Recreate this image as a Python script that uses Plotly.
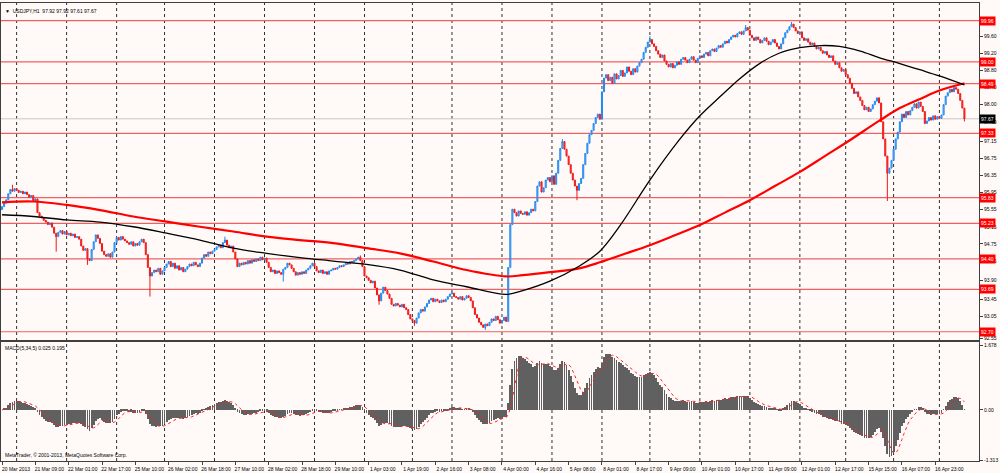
import pandas as pd
import plotly.graph_objects as go
from plotly.subplots import make_subplots

# USDJPY H1 closes, bar 0 = 20 Mar 2013 17:00
closes = [
    95.62, 95.70, 95.78, 95.92, 96.02, 95.98, 96.04, 96.00, 95.95, 95.98,
    95.92, 95.96, 95.90, 95.84, 95.88, 95.76, 95.80, 95.48, 95.40, 95.36,
    95.30, 95.26, 95.20, 95.24, 95.14, 95.00, 94.92, 95.02, 95.06, 94.98,
    95.04, 94.96, 95.00, 94.94, 94.98, 94.90, 94.92, 94.86, 94.70, 94.60,
    94.64, 94.40, 94.36, 94.62, 94.80, 94.96, 94.88, 94.76, 94.58, 94.50,
    94.46, 94.52, 94.44, 94.56, 94.78, 94.90, 94.84, 94.92, 94.86, 94.82,
    94.78, 94.74, 94.80, 94.70, 94.76, 94.72, 94.80, 94.86, 94.78, 94.50,
    94.20, 94.00, 94.08, 94.14, 94.10, 94.18, 94.04, 94.12, 94.20, 94.28,
    94.34, 94.22, 94.30, 94.18, 94.24, 94.14, 94.20, 94.10, 94.16, 94.22,
    94.28, 94.24, 94.32, 94.26, 94.22, 94.30, 94.42, 94.50, 94.46, 94.56,
    94.52, 94.58, 94.62, 94.68, 94.72, 94.66, 94.78, 94.84, 94.72, 94.66,
    94.70, 94.56, 94.40, 94.22, 94.30, 94.26, 94.32, 94.28, 94.36, 94.30,
    94.38, 94.34, 94.40, 94.36, 94.44, 94.38, 94.42, 94.32, 94.20, 94.10,
    94.14, 94.06, 94.12, 94.08, 94.04, 94.16, 94.20, 94.30, 94.26, 94.18,
    94.10, 94.02, 94.08, 94.04, 94.10, 94.06, 94.14, 94.18, 94.24, 94.30,
    94.22, 94.12, 94.08, 94.14, 94.06, 94.10, 94.04, 94.12, 94.14, 94.18,
    94.16, 94.20, 94.24, 94.22, 94.26, 94.30, 94.28, 94.34, 94.32, 94.36,
    94.40, 94.44, 94.36, 94.22, 94.00, 93.96, 93.90, 93.84, 93.88, 93.72,
    93.56, 93.42, 93.60, 93.74, 93.66, 93.58, 93.48, 93.34, 93.30, 93.36,
    93.32, 93.28, 93.34, 93.26, 93.22, 93.10, 93.00, 92.96, 92.90, 93.02,
    93.14, 93.22, 93.18, 93.28, 93.36, 93.44, 93.48, 93.40, 93.46, 93.42,
    93.38, 93.44, 93.40, 93.46, 93.52, 93.58, 93.60, 93.52, 93.50, 93.46,
    93.52, 93.44, 93.48, 93.54, 93.50, 93.42, 93.26, 93.10, 93.02, 92.92,
    92.86, 92.80, 92.88, 92.84, 92.92, 93.00, 92.96, 93.06, 92.98, 92.90,
    92.96, 93.04, 92.94, 94.20, 95.20, 95.56, 95.48, 95.40, 95.52, 95.46,
    95.44, 95.50, 95.42, 95.48, 95.56, 95.52, 95.74, 96.10, 96.20, 95.96,
    96.06, 96.24, 96.30, 96.20, 96.34, 96.14, 96.40, 96.70, 96.98, 97.14,
    96.96, 96.80, 96.60, 96.40, 96.24, 96.10, 96.00, 96.16, 96.28, 96.60,
    96.86, 97.10, 97.30, 97.40, 97.56, 97.70, 97.78, 97.66, 98.30, 98.62,
    98.70, 98.56, 98.64, 98.50, 98.72, 98.60, 98.68, 98.80, 98.66, 98.74,
    98.88, 98.78, 98.70, 98.84, 98.76, 98.90, 98.98, 99.06, 99.22, 99.34,
    99.46, 99.52, 99.42, 99.36, 99.26, 99.18, 99.10, 99.16, 99.02, 98.94,
    98.88, 98.96, 98.86, 98.92, 99.00, 98.94, 99.06, 99.10, 99.04, 98.98,
    99.06, 99.12, 99.04, 98.98, 99.08, 99.14, 99.10, 99.18, 99.22, 99.14,
    99.26, 99.30, 99.24, 99.32, 99.38, 99.34, 99.42, 99.48, 99.44, 99.52,
    99.58, 99.62, 99.58, 99.66, 99.70, 99.64, 99.72, 99.80, 99.74, 99.62,
    99.56, 99.50, 99.58, 99.52, 99.44, 99.50, 99.56, 99.48, 99.40, 99.46,
    99.52, 99.44, 99.36, 99.30, 99.42, 99.56, 99.68, 99.74, 99.82, 99.88,
    99.80, 99.72, 99.66, 99.70, 99.56, 99.50, 99.54, 99.46, 99.40, 99.44,
    99.36, 99.30, 99.34, 99.26, 99.20, 99.24, 99.16, 99.10, 99.14, 99.02,
    98.94, 98.98, 98.86, 98.78, 98.82, 98.70, 98.62, 98.50, 98.38, 98.26,
    98.30, 98.18, 98.10, 97.98, 97.88, 97.94, 97.84, 97.90, 98.00, 98.08,
    98.16, 98.04, 97.60, 97.20, 96.80, 96.40, 96.52, 96.70, 96.96, 97.20,
    97.36, 97.60, 97.78, 97.70, 97.84, 97.76, 97.86, 97.94, 98.02, 97.92,
    98.06, 97.96, 97.84, 97.56, 97.62, 97.70, 97.64, 97.74, 97.66, 97.72,
    97.68, 97.76, 98.00, 98.20, 98.28, 98.36, 98.30, 98.40, 98.36, 98.26,
    98.10, 97.92, 97.67,
]
first_open = 95.55

# long shadows that stand out (bar -> price)
spike_lows = {26: 94.57, 41: 94.26, 71: 93.52, 135: 93.87, 181: 93.33,
              198: 92.84, 232: 92.74, 276: 95.77, 425: 95.75, 462: 97.61}
spike_highs = {5: 96.13, 107: 94.92, 172: 94.48, 216: 93.66, 269: 97.20,
               311: 99.60, 357: 99.86, 379: 99.93}

# moving averages
ma_black_x = [0, 15, 31, 47, 63, 79, 95, 111, 127, 143, 159, 175, 191, 207, 223,
              242, 250, 263, 277, 287, 297, 311, 325, 335, 345, 354, 364, 373,
              383, 393, 402, 412, 421, 431, 441, 450, 462]
ma_black_y = [95.43, 95.39, 95.31, 95.26, 95.15, 95.00, 94.84, 94.65, 94.53, 94.43,
              94.35, 94.27, 94.14, 93.91, 93.75, 93.57, 93.66, 93.88, 94.23, 94.58,
              95.20, 96.24, 97.17, 97.74, 98.20, 98.60, 98.97, 99.20, 99.33, 99.38,
              99.36, 99.25, 99.10, 98.96, 98.81, 98.67, 98.46]
ma_red_x = [0, 15, 31, 47, 63, 79, 95, 111, 127, 143, 159, 175, 191, 207, 223, 242,
            250, 263, 277, 287, 299, 311, 323, 335, 347, 359, 371, 383, 395, 407,
            421, 431, 441, 450, 462]
ma_red_y = [95.72, 95.74, 95.66, 95.54, 95.39, 95.27, 95.15, 95.04, 94.92, 94.84,
            94.77, 94.65, 94.53, 94.34, 94.14, 93.99, 94.02, 94.09, 94.18, 94.32,
            94.52, 94.72, 94.95, 95.19, 95.48, 95.77, 96.10, 96.43, 96.80, 97.17,
            97.62, 97.92, 98.14, 98.33, 98.50]

levels = [99.96, 99.00, 98.49, 97.33, 95.83, 95.23, 94.40, 93.69, 92.70]
bid = 97.67
price_ticks = [99.60, 99.20, 98.80, 98.40, 98.00, 97.60, 97.15, 96.75, 96.35, 95.95,
               95.55, 95.15, 94.75, 94.35, 93.90, 93.45, 93.05, 92.55]
time_labels = ["20 Mar 2013", "21 Mar 09:00", "22 Mar 01:00", "22 Mar 17:00",
               "25 Mar 10:00", "26 Mar 02:00", "26 Mar 18:00", "27 Mar 10:00",
               "28 Mar 02:00", "28 Mar 18:00", "29 Mar 10:00", "1 Apr 03:00",
               "1 Apr 19:00", "2 Apr 16:00", "3 Apr 08:00", "4 Apr 00:00",
               "4 Apr 16:00", "5 Apr 08:00", "8 Apr 01:00", "8 Apr 17:00",
               "9 Apr 09:00", "10 Apr 01:00", "10 Apr 17:00", "11 Apr 09:00",
               "12 Apr 01:00", "12 Apr 17:00", "15 Apr 15:00", "16 Apr 07:00",
               "16 Apr 23:00"]
day_starts = [7, 31, 55, 78, 102, 126, 150, 174, 197, 216, 240, 264, 288, 311,
              335, 359, 383, 405, 428, 450]

n = len(closes)
bars = list(range(n))
opens = [first_open] + closes[:-1]
highs = [spike_highs.get(i, max(o, c)) for i, (o, c) in enumerate(zip(opens, closes))]
lows = [spike_lows.get(i, min(o, c)) for i, (o, c) in enumerate(zip(opens, closes))]

s = pd.Series(closes)
macd = s.ewm(span=5, adjust=False).mean() - s.ewm(span=34, adjust=False).mean()
signal = macd.rolling(5, min_periods=1).mean()

FONT = "Liberation Sans"
BG = "#FFFAF8"

fig = make_subplots(rows=2, cols=1, shared_xaxes=True)

fig.add_trace(go.Candlestick(
    x=bars, open=opens, high=highs, low=lows, close=closes,
    increasing=dict(line=dict(color="#1E88F0", width=1), fillcolor="#93C6F4"),
    decreasing=dict(line=dict(color="#F01818", width=1), fillcolor="#FF5050"),
    whiskerwidth=0, showlegend=False), row=1, col=1)
fig.add_trace(go.Scatter(x=ma_red_x, y=ma_red_y, mode="lines",
                         line=dict(color="#FF0000", width=2.2, shape="spline"),
                         showlegend=False), row=1, col=1)
fig.add_trace(go.Scatter(x=ma_black_x, y=ma_black_y, mode="lines",
                         line=dict(color="#000000", width=1.3, shape="spline"),
                         showlegend=False), row=1, col=1)

fig.add_trace(go.Bar(x=bars, y=macd, width=0.4, marker_color="#606060",
                     marker_line_width=0, showlegend=False), row=2, col=1)
fig.add_trace(go.Scatter(x=bars, y=signal, mode="lines",
                         line=dict(color="#FF2020", width=1, dash="dot"),
                         showlegend=False), row=2, col=1)

shapes = []
for d in day_starts:
    shapes.append(dict(type="line", xref="x", yref="paper", x0=d, x1=d, y0=0, y1=1,
                       line=dict(color="#303030", width=1, dash="dot"), layer="below"))
for lv in levels:
    shapes.append(dict(type="line", xref="paper", yref="y", x0=0, x1=1, y0=lv, y1=lv,
                       line=dict(color="#F06060", width=1.2), layer="below"))
shapes.append(dict(type="line", xref="paper", yref="y", x0=0, x1=1, y0=bid, y1=bid,
                   line=dict(color="#C8C8C8", width=1), layer="below"))

annotations = []
for lv in levels:
    annotations.append(dict(xref="paper", yref="y", x=1, y=lv, xanchor="left",
                            yanchor="middle", text=f"{lv:.2f}", showarrow=False,
                            bgcolor="#FF0000", borderpad=1,
                            font=dict(family=FONT, size=5, color="white")))
annotations.append(dict(xref="paper", yref="y", x=1, y=bid, xanchor="left",
                        yanchor="middle", text=f"{bid:.2f}", showarrow=False,
                        bgcolor="#000000", borderpad=1,
                        font=dict(family=FONT, size=5, color="white")))
annotations.append(dict(xref="paper", yref="paper", x=0, y=1, xanchor="left",
                        yanchor="top", xshift=2, yshift=-3, showarrow=False,
                        text="\u25bc  USDJPY,H1  97.92 97.92 97.61 97.67",
                        font=dict(family=FONT, size=5, color="#000000")))
annotations.append(dict(xref="paper", yref="paper", x=0, y=0.2598, xanchor="left",
                        yanchor="top", xshift=2, yshift=-1, showarrow=False,
                        text="MACD(5,34,5) 0.025 0.195",
                        font=dict(family=FONT, size=5, color="#000000")))
annotations.append(dict(xref="paper", yref="paper", x=0, y=0, xanchor="left",
                        yanchor="bottom", xshift=2, yshift=1, showarrow=False,
                        text="MetaTrader, \u00a9 2001-2013, MetaQuotes Software Corp.",
                        font=dict(family=FONT, size=5, color="#000000")))

fig.update_layout(
    width=1000, height=473,
    margin=dict(l=1, r=21, t=3, b=12),
    plot_bgcolor=BG, paper_bgcolor=BG,
    shapes=shapes, annotations=annotations,
    bargap=0, showlegend=False,
    font=dict(family=FONT, size=5, color="#000000"),
)

axis_line = dict(showline=True, linecolor="#404040", linewidth=1, mirror=True,
                 showgrid=False, zeroline=False)
fig.update_xaxes(range=[-0.5, 469], rangeslider_visible=False, **axis_line)
fig.update_xaxes(showticklabels=False, ticks="", row=1, col=1)
fig.update_xaxes(tickmode="array", tickvals=[16 * k for k in range(len(time_labels))],
                 ticktext=time_labels, ticks="outside", ticklen=3, tickcolor="#404040",
                 ticklabelshift=14, tickfont=dict(family=FONT, size=5),
                 row=2, col=1)

fig.update_yaxes(side="right", range=[92.507, 100.373], domain=[0.2642, 1.0],
                 tickmode="array", tickvals=price_ticks,
                 ticktext=[f"{t:.2f}" for t in price_ticks],
                 ticks="outside", ticklen=3, tickcolor="#404040",
                 tickfont=dict(family=FONT, size=5), row=1, col=1, **axis_line)
fig.update_yaxes(side="right", range=[-1.339, 1.775], domain=[0.0, 0.2598],
                 tickmode="array", tickvals=[1.678, 0.0, -1.313],
                 ticktext=["1.678", "0.00", "-1.313"],
                 ticks="outside", ticklen=3, tickcolor="#404040",
                 tickfont=dict(family=FONT, size=5), row=2, col=1, **axis_line)

# the page body has an 8px margin by default; drop it so the chart sits at 0,0
fig.write_html("out.html",
               config={"displayModeBar": False},
               post_script="document.body.style.margin='0';"
                           "document.body.style.background='" + BG + "';")
